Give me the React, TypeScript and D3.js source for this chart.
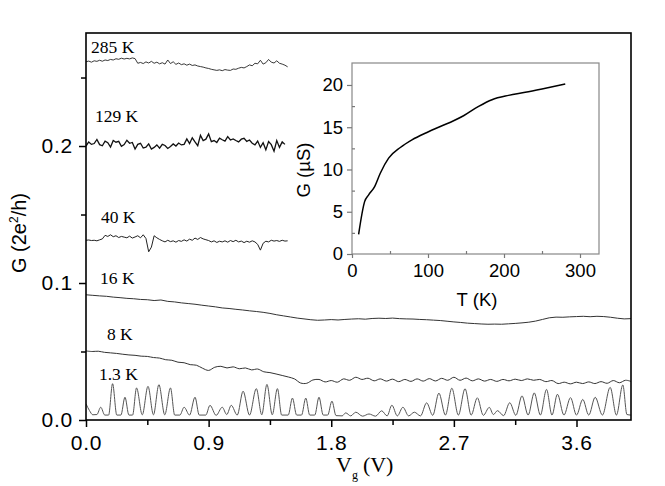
import React, { useEffect, useRef } from "react";
import * as d3 from "d3";

const W = 665;
const H = 486;

// main panel: G (2e^2/h) vs Vg (V)
const vTicks = [0, 0.9, 1.8, 2.7, 3.6];
const vMinor = [0.45, 1.35, 2.25, 3.15];
const gTicks = [0, 0.1, 0.2];
const gMinor = [0.05, 0.15, 0.25];

// traces sampled every 0.02 V
const g285 = [
  0.2615, 0.262, 0.2612, 0.2622, 0.2618, 0.2626, 0.2619, 0.2628, 0.2624, 0.2632,
  0.2628, 0.2637, 0.2633, 0.2641, 0.2635, 0.264, 0.2636, 0.2643, 0.2638, 0.2604,
  0.261, 0.2602, 0.2614, 0.2606, 0.2618, 0.2604, 0.2612, 0.26, 0.2608, 0.2598,
  0.2628, 0.2602, 0.2615, 0.2596, 0.2606, 0.2594, 0.26, 0.259, 0.2598, 0.2588,
  0.2592, 0.2584, 0.258, 0.2576, 0.257, 0.2566, 0.256, 0.2556, 0.2552, 0.2556,
  0.255, 0.2558, 0.2554, 0.2552, 0.2562, 0.256, 0.2568, 0.2574, 0.257, 0.258,
  0.2592, 0.2586, 0.2604, 0.26, 0.2626, 0.2598, 0.2608, 0.2632, 0.2612, 0.2606,
  0.2622, 0.2604, 0.2598, 0.259, 0.2578,
];
const g129 = [
  0.2, 0.203, 0.2012, 0.2018, 0.2048, 0.201, 0.2002, 0.2036, 0.2024, 0.1992,
  0.204, 0.2028, 0.2034, 0.1998, 0.201, 0.2042, 0.202, 0.2026, 0.1978, 0.2012,
  0.202, 0.1985, 0.1992, 0.2016, 0.1978, 0.199, 0.2008, 0.1984, 0.2012, 0.2004,
  0.1982, 0.1996, 0.2015, 0.2, 0.2022, 0.2008, 0.2012, 0.2052, 0.2018, 0.206,
  0.203, 0.2002, 0.2078, 0.204, 0.205, 0.2088, 0.2032, 0.204, 0.2026, 0.2058,
  0.2046, 0.2036, 0.2068, 0.2044, 0.2052, 0.204, 0.203, 0.205, 0.2056, 0.2034,
  0.2044, 0.202, 0.2008, 0.2036, 0.199, 0.2024, 0.1972, 0.2032, 0.201, 0.1962,
  0.204, 0.199, 0.203, 0.2012,
];
const g40 = [
  0.1312, 0.1314, 0.131, 0.1312, 0.1308, 0.1315, 0.1322, 0.1348, 0.134, 0.1352,
  0.1338, 0.1345, 0.1332, 0.134, 0.1335, 0.133, 0.1342, 0.1328, 0.1336, 0.1345,
  0.133, 0.1352, 0.1325, 0.1228, 0.1262, 0.1345, 0.133, 0.1318, 0.1308, 0.13,
  0.1312, 0.1302, 0.1308, 0.1298, 0.131, 0.1304, 0.1315, 0.1306, 0.132, 0.1312,
  0.1328, 0.1318, 0.1332, 0.1322, 0.1316, 0.131, 0.13, 0.1308, 0.1296, 0.1305,
  0.13, 0.1308, 0.1298, 0.131, 0.1302, 0.1312, 0.13, 0.1306, 0.1295, 0.1305,
  0.1298, 0.1308, 0.13, 0.1282, 0.124, 0.129, 0.1305, 0.13, 0.1312, 0.1306,
  0.131, 0.1304, 0.1312, 0.1306, 0.1308,
];
// sampled every 0.05 V
const g16 = [
  0.0914, 0.091, 0.0906, 0.0903, 0.0897, 0.0893, 0.0888, 0.0885, 0.088, 0.0878,
  0.0872, 0.0876, 0.0866, 0.0862, 0.0855, 0.085, 0.0845, 0.0838, 0.0832, 0.0826,
  0.0818, 0.0814, 0.0808, 0.0803, 0.0797, 0.0792, 0.0786, 0.0778, 0.0768, 0.076,
  0.0752, 0.0744, 0.0738, 0.0732, 0.0728, 0.073, 0.0733, 0.073, 0.0734, 0.0737,
  0.0739, 0.0736, 0.0741, 0.0743, 0.0741, 0.0744, 0.074, 0.0738, 0.0737, 0.0734,
  0.0732, 0.0729, 0.0726, 0.0721, 0.0716, 0.0712, 0.0707, 0.0704, 0.0701, 0.0699,
  0.07, 0.0699, 0.0702, 0.0705, 0.0709, 0.0714, 0.0722, 0.0734, 0.0746, 0.0751,
  0.075, 0.0753, 0.0755, 0.0757, 0.0754, 0.0757, 0.0755, 0.075, 0.0743, 0.0738,
  0.074,
];
// sampled every 0.045 V
const g8 = [
  0.0504, 0.05, 0.0502, 0.0494, 0.049, 0.0486, 0.048, 0.0475, 0.0472, 0.0466,
  0.0464, 0.0456, 0.0452, 0.044, 0.0436, 0.0422, 0.0418, 0.0404, 0.04, 0.0378,
  0.0362, 0.0385, 0.0392, 0.038, 0.0388, 0.0374, 0.038, 0.0366, 0.0372, 0.0352,
  0.0346, 0.0336, 0.0325, 0.0314, 0.03, 0.027, 0.0268, 0.0292, 0.0296, 0.0278,
  0.0288, 0.0276, 0.03, 0.029, 0.0312, 0.0296, 0.0305, 0.0286, 0.03, 0.0284,
  0.0298, 0.028, 0.0296, 0.0282, 0.03, 0.0284, 0.0302, 0.0285, 0.0304, 0.029,
  0.0312, 0.029, 0.0306, 0.0286, 0.03, 0.0284, 0.0296, 0.0282, 0.0296, 0.0286,
  0.0298, 0.0288, 0.03, 0.029, 0.0296, 0.028, 0.0288, 0.0266, 0.0276, 0.0264,
  0.0276, 0.0266, 0.0278, 0.0266, 0.028, 0.0268, 0.0288, 0.0272, 0.029, 0.028,
];
// 1.3 K: peaks and the feet between them, [V, G]
const g1p3: [number, number][] = [
  [0, 0.0118], [0.025, 0.007], [0.05, 0.0038], [0.08, 0.004], [0.108, 0.0093],
  [0.138, 0.0036], [0.166, 0.0036], [0.195, 0.0265], [0.226, 0.0036], [0.256, 0.0036],
  [0.286, 0.0166], [0.315, 0.0036], [0.342, 0.0036], [0.371, 0.0234], [0.413, 0.0038],
  [0.455, 0.0246], [0.495, 0.0038], [0.535, 0.0258], [0.578, 0.0038], [0.62, 0.0234],
  [0.651, 0.0036], [0.689, 0.0036], [0.72, 0.0093], [0.76, 0.0036], [0.8, 0.0166],
  [0.831, 0.0036], [0.879, 0.0036], [0.91, 0.0107], [0.955, 0.0034], [1.0, 0.0093],
  [1.033, 0.004], [1.066, 0.0107], [1.11, 0.0036], [1.153, 0.021], [1.2, 0.0036],
  [1.25, 0.0229], [1.29, 0.0038], [1.328, 0.026], [1.367, 0.0038], [1.405, 0.0229],
  [1.436, 0.0036], [1.484, 0.0036], [1.515, 0.016], [1.546, 0.0036], [1.582, 0.0036],
  [1.613, 0.016], [1.642, 0.0036], [1.679, 0.0036], [1.71, 0.0166], [1.741, 0.0036],
  [1.774, 0.0036], [1.805, 0.0138], [1.835, 0.0032], [1.88, 0.003], [1.906, 0.0052],
  [1.943, 0.003], [1.98, 0.0057], [2.03, 0.0028], [2.077, 0.0044], [2.125, 0.0028],
  [2.17, 0.0067], [2.21, 0.003], [2.245, 0.0108], [2.285, 0.003], [2.326, 0.0093],
  [2.368, 0.003], [2.41, 0.0057], [2.455, 0.003], [2.5, 0.0125], [2.545, 0.0034],
  [2.59, 0.0196], [2.638, 0.0036], [2.685, 0.0232], [2.733, 0.0036], [2.782, 0.0228],
  [2.827, 0.0036], [2.872, 0.0162], [2.916, 0.0034], [2.96, 0.0092], [2.99, 0.004],
  [3.02, 0.0068], [3.065, 0.0032], [3.11, 0.0126], [3.155, 0.0034], [3.2, 0.0176],
  [3.245, 0.0036], [3.29, 0.0198], [3.335, 0.0036], [3.38, 0.0223], [3.42, 0.0036],
  [3.46, 0.0188], [3.508, 0.0036], [3.556, 0.0163], [3.6, 0.0036], [3.646, 0.015],
  [3.69, 0.0036], [3.737, 0.0166], [3.79, 0.0036], [3.847, 0.0238], [3.893, 0.0036],
  [3.94, 0.0256], [3.97, 0.004], [4.0, 0.0036],
];

const tempLabels = ["285 K", "129 K", "40 K", "16 K", "8 K", "1.3 K"];

// inset: G (uS) vs T (K)
const insetT = [8.7, 16.6, 21.9, 29.8, 37.2, 48.2, 63.6, 78.9, 98.6, 118.4, 133.7, 146.8, 166.6, 184.2, 206, 228, 250, 280.6];
const insetG = [2.33, 6.2, 7.0, 7.98, 9.56, 11.34, 12.6, 13.5, 14.38, 15.17, 15.77, 16.36, 17.47, 18.26, 18.77, 19.13, 19.53, 20.12];
const tTicks = [0, 100, 200, 300];
const tMinor = [50, 150, 250];
const giTicks = [0, 5, 10, 15, 20];
const giMinor = [2.5, 7.5, 12.5, 17.5];

const SANS = "Liberation Sans, Arial, sans-serif";
const SERIF = "Liberation Serif, Times New Roman, serif";

const App = () => {
  const ref = useRef<SVGSVGElement>(null);

  useEffect(() => {
    const svg = d3.select(ref.current);
    svg.selectAll("*").remove();

    const x = d3.scaleLinear().domain([0, 4.0]).range([86, 631]);
    const y = d3.scaleLinear().domain([0, 0.2825]).range([420, 33]);

    svg
      .append("defs")
      .append("clipPath")
      .attr("id", "plotClip")
      .append("rect")
      .attr("x", 86)
      .attr("y", 33)
      .attr("width", 545)
      .attr("height", 387);

    const plot = svg.append("g").attr("clip-path", "url(#plotClip)");

    const line = d3
      .line<number>()
      .x((d, i) => x(i * 0.02))
      .y((d) => y(d));

    [
      { data: g285, w: 0.9, c: "#222" },
      { data: g129, w: 1.3, c: "#111" },
      { data: g40, w: 1.0, c: "#222" },
    ].forEach((s) => {
      plot
        .append("path")
        .attr("d", line(s.data))
        .attr("fill", "none")
        .attr("stroke", s.c)
        .attr("stroke-width", s.w);
    });

    const line16 = d3
      .line<number>()
      .x((d, i) => x(i * 0.05))
      .y((d) => y(d));
    plot
      .append("path")
      .attr("d", line16(g16))
      .attr("fill", "none")
      .attr("stroke", "#333")
      .attr("stroke-width", 1);

    const line8 = d3
      .line<number>()
      .x((d, i) => x(i * 0.045))
      .y((d) => y(d))
      .curve(d3.curveCatmullRom);
    plot
      .append("path")
      .attr("d", line8(g8))
      .attr("fill", "none")
      .attr("stroke", "#333")
      .attr("stroke-width", 1);

    const linePeaks = d3
      .line<[number, number]>()
      .x((d) => x(d[0]))
      .y((d) => y(d[1]))
      .curve(d3.curveMonotoneX);
    plot
      .append("path")
      .attr("d", linePeaks(g1p3))
      .attr("fill", "none")
      .attr("stroke", "#555")
      .attr("stroke-width", 1);

    // frame
    svg
      .append("rect")
      .attr("x", 86)
      .attr("y", 33)
      .attr("width", 545)
      .attr("height", 387)
      .attr("fill", "none")
      .attr("stroke", "#000")
      .attr("stroke-width", 1.6);

    const styleAxis = (g: any, size: number, family: string) => {
      g.select(".domain").remove();
      g.selectAll("line").attr("stroke", "#000").attr("stroke-width", 1.5);
      g.selectAll("text")
        .attr("font-family", family)
        .attr("font-size", size)
        .attr("fill", "#000");
    };

    const xAxis = svg
      .append("g")
      .attr("transform", "translate(0,420)")
      .call(
        d3.axisBottom(x).tickValues(vTicks).tickFormat(d3.format(".1f")).tickSize(7).tickPadding(8)
      );
    styleAxis(xAxis, 21, SANS);
    xAxis.selectAll("text").attr("letter-spacing", 0.8);

    const xMin = svg
      .append("g")
      .attr("transform", "translate(0,420)")
      .call(d3.axisBottom(x).tickValues(vMinor).tickFormat(() => "").tickSize(5));
    styleAxis(xMin, 21, SANS);

    const yAxis = svg
      .append("g")
      .attr("transform", "translate(86,0)")
      .call(d3.axisLeft(y).tickValues(gTicks).tickFormat(d3.format(".1f")).tickSize(7).tickPadding(6));
    styleAxis(yAxis, 21, SANS);
    yAxis.selectAll("text").attr("letter-spacing", 0.8);

    const yMin = svg
      .append("g")
      .attr("transform", "translate(86,0)")
      .call(d3.axisLeft(y).tickValues(gMinor).tickFormat(() => "").tickSize(5));
    styleAxis(yMin, 21, SANS);

    // temperature labels
    const labelAt: [number, number][] = [
      [0.037, 0.2679],
      [0.066, 0.2175],
      [0.11, 0.1438],
      [0.103, 0.0993],
      [0.154, 0.0584],
      [0.095, 0.0292],
    ];
    tempLabels.forEach((t, i) => {
      svg
        .append("text")
        .attr("x", x(labelAt[i][0]))
        .attr("y", y(labelAt[i][1]))
        .attr("font-family", SERIF)
        .attr("font-size", 17.5)
        .attr("fill", "#000")
        .text(t);
    });

    // axis titles
    const xt = svg
      .append("text")
      .attr("x", 336)
      .attr("y", 472)
      .attr("font-family", SERIF)
      .attr("font-size", 22)
      .attr("fill", "#000");
    xt.append("tspan").text("V");
    xt.append("tspan").attr("dy", 7).attr("font-size", 12).text("g");
    xt.append("tspan").attr("dy", -7).attr("dx", 5).text("(V)");

    const yt = svg
      .append("text")
      .attr("transform", "translate(26,233) rotate(-90)")
      .attr("text-anchor", "middle")
      .attr("font-family", SANS)
      .attr("font-size", 20)
      .attr("fill", "#000");
    yt.append("tspan").text("G (2e");
    yt.append("tspan").attr("dy", -8).attr("font-size", 12).text("2");
    yt.append("tspan").attr("dy", 8).text("/h)");

    // inset
    const xi = d3.scaleLinear().domain([0, 325]).range([352, 599]);
    const yi = d3.scaleLinear().domain([0, 22.6]).range([254, 63]);

    svg
      .append("rect")
      .attr("x", 352)
      .attr("y", 63)
      .attr("width", 247)
      .attr("height", 191)
      .attr("fill", "#fff")
      .attr("stroke", "#888")
      .attr("stroke-width", 1.2);

    const styleInset = (g: any) => {
      g.select(".domain").remove();
      g.selectAll("line").attr("stroke", "#777").attr("stroke-width", 1.2);
      g.selectAll("text")
        .attr("font-family", SANS)
        .attr("font-size", 18.5)
        .attr("fill", "#000");
    };

    const xiAxis = svg
      .append("g")
      .attr("transform", "translate(0,254)")
      .call(d3.axisBottom(xi).tickValues(tTicks).tickSize(4).tickPadding(6));
    styleInset(xiAxis);
    const xiMin = svg
      .append("g")
      .attr("transform", "translate(0,254)")
      .call(d3.axisBottom(xi).tickValues(tMinor).tickFormat(() => "").tickSize(-3));
    styleInset(xiMin);

    const yiAxis = svg
      .append("g")
      .attr("transform", "translate(352,0)")
      .call(d3.axisLeft(yi).tickValues(giTicks).tickSize(5).tickPadding(4));
    styleInset(yiAxis);
    const yiMin = svg
      .append("g")
      .attr("transform", "translate(352,0)")
      .call(d3.axisLeft(yi).tickValues(giMinor).tickFormat(() => "").tickSize(-3));
    styleInset(yiMin);

    const insetLine = d3
      .line<number>()
      .x((d, i) => xi(insetT[i]))
      .y((d) => yi(d))
      .curve(d3.curveMonotoneX);
    svg
      .append("path")
      .attr("d", insetLine(insetG))
      .attr("fill", "none")
      .attr("stroke", "#000")
      .attr("stroke-width", 1.5);

    svg
      .append("text")
      .attr("x", 477)
      .attr("y", 306)
      .attr("text-anchor", "middle")
      .attr("font-family", SANS)
      .attr("font-size", 18.5)
      .text("T (K)");

    svg
      .append("text")
      .attr("transform", "translate(310,170) rotate(-90)")
      .attr("text-anchor", "middle")
      .attr("font-family", SANS)
      .attr("font-size", 18.5)
      .text("G (\u00b5S)");
  }, []);

  return (
    <div style={{ position: "absolute", left: 0, top: 0 }}>
      <svg ref={ref} width={W} height={H} style={{ display: "block", background: "#fff" }} />
    </div>
  );
};

export default App;
